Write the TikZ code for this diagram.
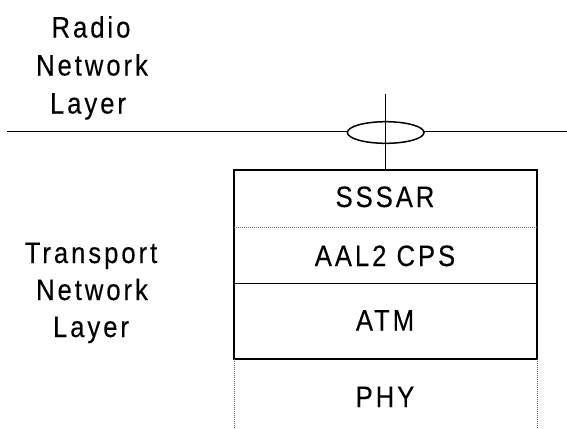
\documentclass[tikz,border=0pt]{standalone}
\usepackage{fontspec}
\usetikzlibrary{shapes.geometric}
\setmainfont{Liberation Sans}[LetterSpace=10, FakeStretch=0.87, FakeBold=0.2]
\begin{document}
\begin{tikzpicture}[x=1bp,y=-1bp,
  lbl/.style={font=\fontsize{29.5bp}{34bp}\selectfont, anchor=base, inner sep=0pt},
  solidline/.style={line width=1.9bp, black},
  thinline/.style={line width=1.5bp, black},
  dotline/.style={line width=0.9bp, black!60, dash pattern=on 1bp off 1bp}]
\path[use as bounding box] (0,0) rectangle (567,428);
% left labels
\node[lbl] (radio) at (91,37.5) {Radio};
\node[lbl] (rnet) at (92,75.5) {Network};
\node[lbl] (rlay) at (88,113.5) {Layer};
\node[lbl] (trans) at (91,263) {Transport};
\node[lbl] (tnet) at (92,300) {Network};
\node[lbl] (tlay) at (91,337) {Layer};
% box corners
\coordinate (tl) at (234,170);
\coordinate (tr) at (537,170);
\coordinate (ml) at (234,227);
\coordinate (mr) at (537,227);
\coordinate (al) at (234,283.5);
\coordinate (ar) at (537,283.5);
\coordinate (bl) at (234,359);
\coordinate (br) at (537,359);
\coordinate (pl) at (234,428);
\coordinate (pr) at (537,428);
% horizontal line and ellipse
\coordinate (hl) at (7,131.5);
\coordinate (hr) at (567,131.5);
\draw[thinline] (hl) -- (hr);
\node[draw, thinline, fill=white, ellipse, minimum width=76.6bp, minimum height=21.6bp, inner sep=0pt] (sap) at (385.7,132.5) {};
\coordinate (vtop) at (385.7,94);
\coordinate (vbot) at (385.7,170);
\draw[thinline] (vtop) -- (vbot);
% box
\draw[solidline] (bl) -- (tl) -- (tr) -- (br) -- cycle;
\draw[solidline] (al) -- (ar);
\draw[dotline] (ml) -- (mr);
\draw[dotline] (bl) -- (pl);
\draw[dotline] (br) -- (pr);
% box labels
\node[lbl] (sssar) at (385,207) {SSSAR};
\node[lbl] (cps) at (385,266) {AAL2 CPS};
\node[lbl] (atm) at (385,330.5) {ATM};
\node[lbl] (phy) at (385,407) {PHY};
\end{tikzpicture}
\end{document}
